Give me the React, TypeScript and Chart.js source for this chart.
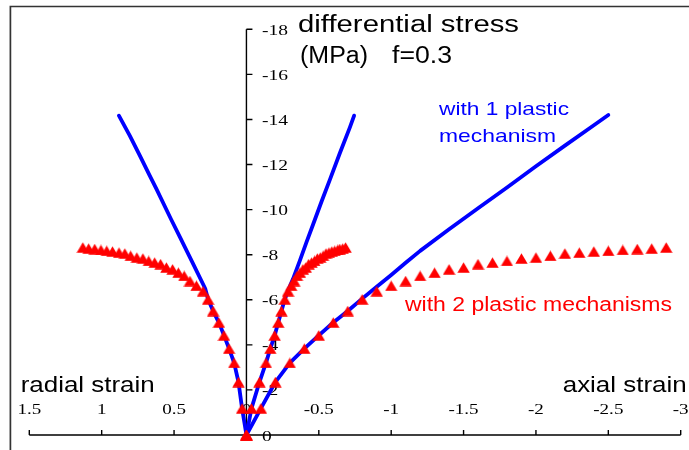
import React, { useEffect, useRef } from "react";
import { Chart, registerables } from "chart.js";
Chart.register(...registerables);

// ---- tick values / labels ----
const xTickValues = [1.5, 1, 0.5, 0, -0.5, -1, -1.5, -2, -2.5, -3];
const xTickLabels = ["1.5", "1", "0.5", "0", "-0.5", "-1", "-1.5", "-2", "-2.5", "-3"];
const yTickValues = [0, -2, -4, -6, -8, -10, -12, -14, -16, -18];
const yTickLabels = ["0", "-2", "-4", "-6", "-8", "-10", "-12", "-14", "-16", "-18"];

// ---- model with 2 plastic mechanisms (red triangles) ----
const axial2 = [0, -0.1, -0.2, -0.3, -0.4, -0.5, -0.6, -0.7, -0.8, -0.9, -1.0, -1.1, -1.2, -1.3, -1.4, -1.5, -1.6, -1.7, -1.8, -1.9, -2.0, -2.1, -2.2, -2.3, -2.4, -2.5, -2.6, -2.7, -2.8, -2.9];
const stress2 = [0, -1.18, -2.35, -3.2, -3.83, -4.42, -4.99, -5.5, -6.02, -6.38, -6.62, -6.83, -7.06, -7.2, -7.35, -7.43, -7.58, -7.65, -7.72, -7.83, -7.87, -7.95, -8.05, -8.09, -8.14, -8.17, -8.21, -8.25, -8.27, -8.32];
const radial2 = [0, 0.03, 0.055, 0.085, 0.12, 0.155, 0.19, 0.23, 0.265, 0.3, 0.345, 0.39, 0.43, 0.47, 0.51, 0.553, 0.593, 0.634, 0.675, 0.715, 0.757, 0.8, 0.84, 0.88, 0.925, 0.965, 1.005, 1.048, 1.09, 1.13];
const volume2 = [0, -0.035, -0.09, -0.135, -0.165, -0.195, -0.22, -0.242, -0.265, -0.288, -0.31, -0.33, -0.35, -0.37, -0.39, -0.41, -0.43, -0.45, -0.47, -0.49, -0.51, -0.53, -0.55, -0.57, -0.59, -0.61, -0.63, -0.645, -0.665, -0.685];

// ---- model with 1 plastic mechanism (blue lines) ----
const axial1X = [0, -0.1, -0.2, -0.3, -0.4, -0.5, -0.6, -0.7, -0.8, -0.9, -1.0, -1.1, -1.2, -1.4, -1.6, -1.8, -2.0, -2.2, -2.4, -2.5];
const axial1Y = [0, -1.18, -2.35, -3.2, -3.83, -4.42, -4.99, -5.5, -6.05, -6.58, -7.1, -7.64, -8.17, -9.13, -10.06, -10.98, -11.92, -12.84, -13.74, -14.2];
const volume1X = [0, -0.035, -0.09, -0.135, -0.165, -0.195, -0.22, -0.242, -0.265, -0.29, -0.322, -0.369, -0.415, -0.461, -0.519, -0.576, -0.645, -0.714, -0.744];
const volume1Y = [0, -1.18, -2.35, -3.2, -3.83, -4.42, -4.99, -5.5, -6.02, -6.45, -6.93, -7.74, -8.56, -9.35, -10.36, -11.32, -12.5, -13.64, -14.17];
const radial1X = [0, 0.03, 0.055, 0.085, 0.12, 0.155, 0.19, 0.23, 0.265, 0.285, 0.369, 0.461, 0.519, 0.622, 0.669, 0.738, 0.806, 0.881];
const radial1Y = [0, -1.18, -2.35, -3.2, -3.83, -4.42, -4.99, -5.5, -6.02, -6.5, -7.6, -8.8, -9.55, -10.92, -11.52, -12.42, -13.28, -14.17];

// ---- texts ----
const titleLine1 = "differential stress";
const titleUnit = "(MPa)";
const titleF = "f=0.3";
const label1a = "with 1 plastic";
const label1b = "mechanism";
const label2 = "with 2 plastic mechanisms";
const radialLabel = "radial strain";
const axialLabel = "axial strain";

const BLUE = "#0000ff";
const RED = "#ff0000";
const SANS = "'Liberation Sans', Arial, sans-serif";
const SERIF = "'Liberation Serif', 'Times New Roman', serif";

function pts(xs: number[], ys: number[]) {
  return xs.map((x, i) => ({ x, y: ys[i] }));
}

function fitText(ctx: CanvasRenderingContext2D, text: string, x: number, y: number, font: string, color: string, width: number) {
  ctx.save();
  ctx.font = font;
  ctx.fillStyle = color;
  ctx.textAlign = "left";
  ctx.textBaseline = "alphabetic";
  const w = ctx.measureText(text).width;
  ctx.translate(x, y);
  ctx.scale(width / w, 1);
  ctx.fillText(text, 0, 0);
  ctx.restore();
}

function scaledText(ctx: CanvasRenderingContext2D, text: string, x: number, y: number, sx: number, align: CanvasTextAlign) {
  ctx.save();
  ctx.translate(x, y);
  ctx.scale(sx, 1);
  ctx.textAlign = align;
  ctx.fillText(text, 0, 0);
  ctx.restore();
}

const axesPlugin = {
  id: "crossAxes",
  beforeDatasetsDraw(chart: any) {
    const ctx: CanvasRenderingContext2D = chart.ctx;
    const xs = chart.scales.x;
    const ys = chart.scales.y;
    ctx.save();
    // frame
    ctx.strokeStyle = "#333333";
    ctx.lineWidth = 1.7;
    ctx.beginPath();
    ctx.moveTo(10.4, 450);
    ctx.lineTo(10.4, 6.5);
    ctx.lineTo(689, 6.5);
    ctx.stroke();

    const x0 = xs.getPixelForValue(0);
    const y0 = ys.getPixelForValue(0);
    ctx.strokeStyle = "#000000";
    ctx.lineWidth = 1.4;
    ctx.beginPath();
    ctx.moveTo(xs.getPixelForValue(xTickValues[0]), y0);
    ctx.lineTo(xs.getPixelForValue(xTickValues[xTickValues.length - 1]), y0);
    ctx.moveTo(x0, y0);
    ctx.lineTo(x0, ys.getPixelForValue(yTickValues[yTickValues.length - 1]));
    xTickValues.forEach((v) => {
      const px = xs.getPixelForValue(v);
      ctx.moveTo(px, y0);
      ctx.lineTo(px, y0 - 5);
    });
    yTickValues.forEach((v) => {
      const py = ys.getPixelForValue(v);
      ctx.moveTo(x0, py);
      ctx.lineTo(x0 + 6, py);
    });
    ctx.stroke();

    ctx.fillStyle = "#000000";
    ctx.font = `15px ${SERIF}`;
    ctx.textBaseline = "alphabetic";
    xTickValues.forEach((v, i) => {
      const px = xs.getPixelForValue(v);
      scaledText(ctx, xTickLabels[i], px, 413.5, 1.27, "center");
    });
    yTickValues.forEach((v, i) => {
      const py = ys.getPixelForValue(v);
      scaledText(ctx, yTickLabels[i], 262, py + 5.5, 1.3, "left");
    });
    ctx.restore();
  },
  afterDatasetsDraw(chart: any) {
    const ctx: CanvasRenderingContext2D = chart.ctx;
    fitText(ctx, titleLine1, 298, 31.5, `23px ${SANS}`, "#000", 221);
    fitText(ctx, titleUnit, 300, 62.5, `23px ${SANS}`, "#000", 68);
    fitText(ctx, titleF, 392, 62.5, `23px ${SANS}`, "#000", 60);
    fitText(ctx, label1a, 439, 115, `19px ${SANS}`, BLUE, 130);
    fitText(ctx, label1b, 439, 141.7, `19px ${SANS}`, BLUE, 117);
    fitText(ctx, label2, 405, 311, `20px ${SANS}`, RED, 267);
    fitText(ctx, radialLabel, 20.7, 392.3, `21.5px ${SANS}`, "#000", 134);
    fitText(ctx, axialLabel, 562.7, 392.3, `21.5px ${SANS}`, "#000", 124);
  },
};

function makeTriangle(): HTMLCanvasElement {
  const c = document.createElement("canvas");
  c.width = 13;
  c.height = 11;
  const g = c.getContext("2d")!;
  g.fillStyle = RED;
  g.beginPath();
  g.moveTo(0.3, 10.8);
  g.lineTo(12.7, 10.8);
  g.lineTo(6.5, 0.2);
  g.closePath();
  g.fill();
  return c;
}

export default function App() {
  const ref = useRef<HTMLCanvasElement | null>(null);
  useEffect(() => {
    if (!ref.current) return;
    const tri = makeTriangle();
    const redBase = {
      showLine: false,
      pointStyle: tri as any,
      pointRadius: 6.5,
      pointHoverRadius: 6.5,
      backgroundColor: RED,
      borderColor: RED,
      borderWidth: 0,
      clip: false as any,
      order: 0,
    };
    const blueBase = {
      showLine: true,
      pointRadius: 0,
      pointHoverRadius: 0,
      borderColor: BLUE,
      backgroundColor: BLUE,
      borderWidth: 3.8,
      borderCapStyle: "round" as const,
      borderJoinStyle: "round" as const,
      tension: 0,
      clip: false as any,
      order: 1,
    };
    const chart = new Chart(ref.current, {
      type: "scatter",
      data: {
        datasets: [
          { ...redBase, label: "radial (2)", data: pts(radial2, stress2) },
          { ...redBase, label: "volumetric (2)", data: pts(volume2, stress2) },
          { ...redBase, label: "axial (2)", data: pts(axial2, stress2) },
          { ...blueBase, label: "radial (1)", data: pts(radial1X, radial1Y) },
          { ...blueBase, label: "volumetric (1)", data: pts(volume1X, volume1Y) },
          { ...blueBase, label: "axial (1)", data: pts(axial1X, axial1Y) },
        ],
      },
      options: {
        animation: false,
        responsive: false,
        events: [],
        layout: { padding: { left: 29.3, right: 8.3, top: 29.3, bottom: 15 } },
        plugins: { legend: { display: false }, tooltip: { enabled: false } },
        scales: {
          x: { type: "linear", min: -3, max: 1.5, reverse: true, display: false },
          y: { type: "linear", min: -18, max: 0, reverse: true, display: false },
        },
      },
      plugins: [axesPlugin],
    });
    return () => chart.destroy();
  }, []);
  return (
    <div style={{ position: "absolute", left: 0, top: 0, width: 689, height: 450, background: "#fff" }}>
      <canvas ref={ref} width={689} height={450} style={{ display: "block" }} />
    </div>
  );
}
